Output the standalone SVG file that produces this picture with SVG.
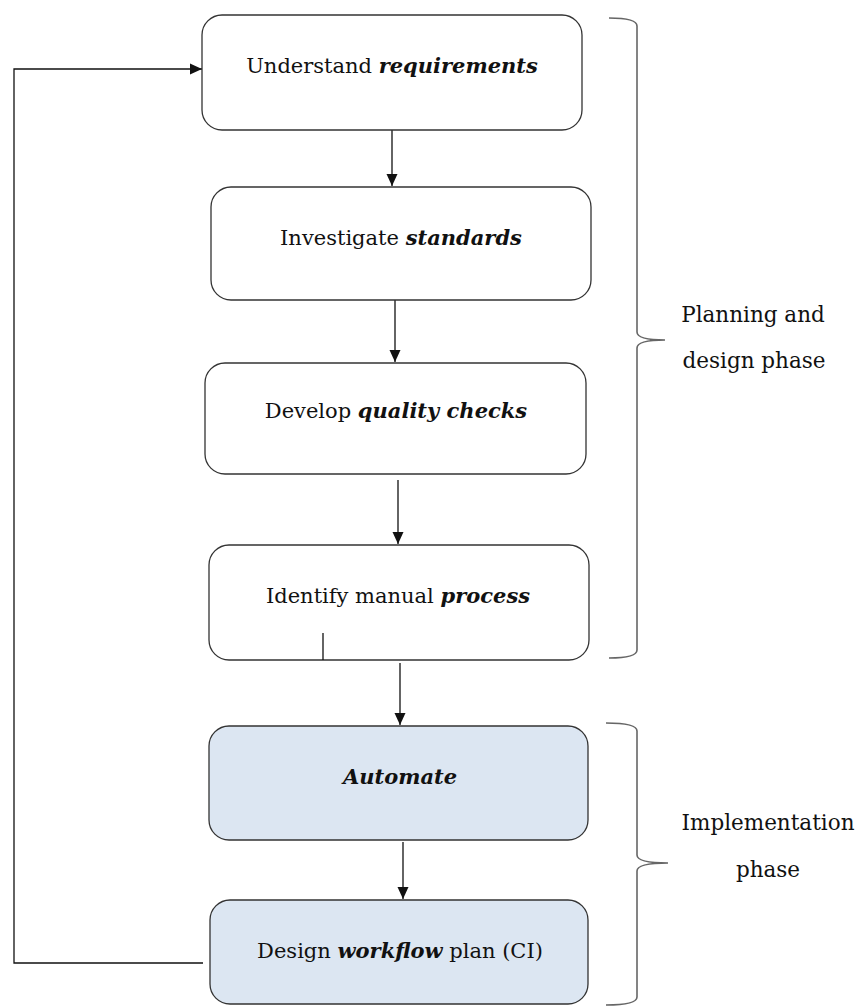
<svg xmlns="http://www.w3.org/2000/svg" width="859" height="1007" viewBox="0 0 859 1007">
<defs>
<style>
.box{fill:#ffffff;stroke:#333333;stroke-width:1.3}
.blue{fill:#dce6f2}
.t{font-family:'DejaVu Serif',serif;font-size:21px;fill:#111111;text-anchor:middle}
.s{font-size:21.5px}
.bi{font-weight:bold;font-style:italic}
.line{fill:none;stroke:#111111;stroke-width:1.3}
.brace{fill:none;stroke:#666666;stroke-width:1.6}
</style>
<marker id="ah" viewBox="0 0 12 12" refX="12" refY="6" markerWidth="12" markerHeight="12" markerUnits="userSpaceOnUse" orient="auto">
<path d="M0,0.5 L12,6 L0,11.5 Z" fill="#111111"/>
</marker>
</defs>
<rect width="859" height="1007" fill="#ffffff"/>
<g id="connectors">
<line class="line" x1="392" y1="130" x2="392" y2="186" marker-end="url(#ah)"/>
<line class="line" x1="395" y1="300" x2="395" y2="362" marker-end="url(#ah)"/>
<line class="line" x1="398" y1="480" x2="398" y2="544" marker-end="url(#ah)"/>
<line class="line" x1="400" y1="663" x2="400" y2="725" marker-end="url(#ah)"/>
<line class="line" x1="403" y1="842" x2="403" y2="899" marker-end="url(#ah)"/>
<polyline class="line" points="203,963 14,963 14,69 202,69" marker-end="url(#ah)"/>
</g>
<g id="n1">
<rect class="box" x="202" y="15" width="380" height="115" rx="20"/>
<text class="t" x="392" y="73">Understand <tspan class="bi">requirements</tspan></text>
</g>
<g id="n2">
<rect class="box" x="211" y="187" width="380" height="113" rx="20"/>
<text class="t" x="401" y="245">Investigate <tspan class="bi">standards</tspan></text>
</g>
<g id="n3">
<rect class="box" x="205" y="363" width="381" height="111" rx="20"/>
<text class="t" x="396" y="418">Develop <tspan class="bi">quality checks</tspan></text>
</g>
<g id="n4">
<rect class="box" x="209" y="545" width="380" height="115" rx="20"/>
<line class="line" x1="323" y1="633" x2="323" y2="660"/>
<text class="t" x="398" y="603">Identify manual <tspan class="bi">process</tspan></text>
</g>
<g id="n5">
<rect class="box blue" x="209" y="726" width="379" height="114" rx="20"/>
<text class="t bi" x="400" y="784">Automate</text>
</g>
<g id="n6">
<rect class="box blue" x="210" y="900" width="378" height="104" rx="20"/>
<text class="t" x="400" y="958">Design <tspan class="bi">workflow</tspan> plan (CI)</text>
</g>
<g id="brace-planning">
<path class="brace" d="M609,18 Q637,18 637,26 L637,332 Q637,340 665,340 Q637,340 637,348 L637,650 Q637,658 609,658"/>
<text class="t s" x="753" y="322">Planning and</text>
<text class="t s" x="754" y="368">design phase</text>
</g>
<g id="brace-implementation">
<path class="brace" d="M606,723 Q637,723 637,731 L637,855 Q637,863 668,863 Q637,863 637,871 L637,997 Q637,1005 606,1005"/>
<text class="t s" x="768" y="830">Implementation</text>
<text class="t s" x="768" y="877">phase</text>
</g>
</svg>
